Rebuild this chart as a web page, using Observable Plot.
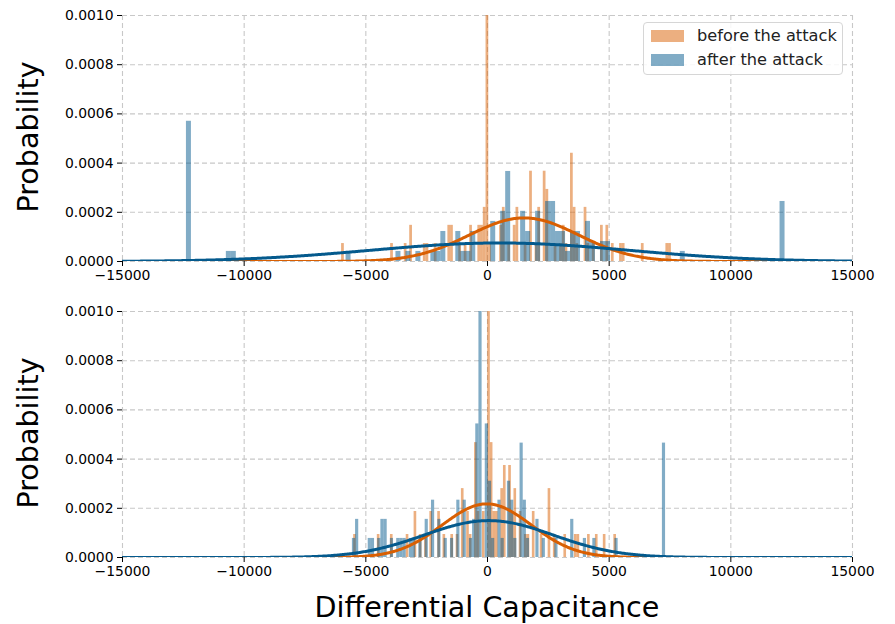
<!DOCTYPE html>
<html><head><meta charset="utf-8">
<script src="https://cdn.jsdelivr.net/npm/d3@7"></script>
<script src="https://cdn.jsdelivr.net/npm/@observablehq/plot@0.6"></script>
<style>
body{margin:0;background:#fff;font-family:"DejaVu Sans",sans-serif;}
#fig{position:relative;width:895px;height:624px;overflow:hidden;background:#fff;}
.panel{position:absolute;left:0;}
.lab{position:absolute;font-size:28.6px;white-space:nowrap;color:#000;transform:translate(-50%,-50%);}
.ylab{transform:translate(-50%,-50%) rotate(-90deg);}
#legend{position:absolute;left:643px;top:22px;width:200px;height:53px;border:1px solid #d6d6d6;border-radius:4px;background:rgba(255,255,255,0.85);box-sizing:border-box;}
.sw{position:absolute;width:33px;height:12px;}
.lt{position:absolute;font-size:16.2px;color:#222;line-height:16px;white-space:nowrap;}
</style></head><body><div id="fig"></div>
<script>
// ---- data ----
const xTicks = [-15000, -10000, -5000, 0, 5000, 10000, 15000];
const yTicks = [0, 0.0002, 0.0004, 0.0006, 0.0008, 0.001];
const seriesNames = ["before the attack", "after the attack"];
const barColors = ["#d95f02", "#045a8d"];

// top panel: before (bin width ~112)
const topBeforeX = [-5940,-3925,-3410,-3185,-2570,-2445,-2137,-1580,-1480,-1110,-904,-640,-350,-230,-120,-20,123,510,640,945,1170,1270,1562,1790,1973,2120,2320,2430,2836,3000,3140,3288,3470,3580,3740,3990,4151,4357,4660,4870,5138,5490,5610,6350,7400,7520];
const topBeforeP = [7.3e-5,7.3e-5,7.3e-5,1.47e-4,7.3e-5,7.3e-5,7.3e-5,1.47e-4,1.47e-4,7.3e-5,7.3e-5,1.47e-4,1.47e-4,1.47e-4,2.2e-4,1.03e-3,7.3e-5,1.47e-4,2.2e-4,7.3e-5,1.47e-4,2.2e-4,7.3e-5,3.67e-4,7.3e-5,2.2e-4,3.67e-4,2.93e-4,7.3e-5,7.3e-5,1.47e-4,7.3e-5,4.4e-4,2.2e-4,7.3e-5,2.2e-4,7.3e-5,7.3e-5,1.47e-4,1.47e-4,7.3e-5,7.3e-5,7.3e-5,7.3e-5,7.3e-5,7.3e-5];
// top panel: after (bin width ~205)
const topAfterX = [-12270,-10727,-10480,-5713,-3761,-3165,-2918,-2261,-2014,-1829,-1254,-1028,-781,-493,247,658,843,1459,1664,2035,2405,2610,2816,3001,3371,3576,3782,4131,4336,4686,4891,7994,12227];
const topAfterP = [5.7e-4,4.1e-5,4.1e-5,4.1e-5,4.1e-5,4.1e-5,4.1e-5,4.1e-5,4.1e-5,1.22e-4,1.22e-4,4.1e-5,4.1e-5,1.22e-4,1.63e-4,2.04e-4,3.66e-4,2.04e-4,1.22e-4,2.04e-4,2.44e-4,2.44e-4,1.22e-4,1.22e-4,4.1e-5,1.22e-4,1.22e-4,1.63e-4,8.1e-5,8.1e-5,8.1e-5,4.1e-5,2.44e-4];
// bottom panel: before (bin width ~108)
const botBeforeX = [-5446,-4459,-3925,-3268,-2980,-2754,-2548,-2363,-2014,-1767,-1459,-1274,-966,-781,-658,-473,-329,-164,21,123,288,411,617,719,925,1028,1151,1356,1562,1726,1932,2178,2528,2795,3165,3637,3740,4131,4459,4788,5199];
const botBeforeP = [9.35e-5,9.35e-5,9.35e-5,9.35e-5,1.87e-4,9.35e-5,9.35e-5,1.87e-4,1.87e-4,9.35e-5,9.35e-5,9.35e-5,2.8e-4,1.87e-4,9.35e-5,4.67e-4,1.87e-4,1.87e-4,1.03e-3,4.67e-4,1.87e-4,1.87e-4,2.8e-4,3.74e-4,3.74e-4,1.87e-4,2.8e-4,1.87e-4,9.35e-5,9.35e-5,1.87e-4,9.35e-5,2.8e-4,9.35e-5,9.35e-5,9.35e-5,9.35e-5,9.35e-5,9.35e-5,9.35e-5,9.35e-5];
// bottom panel: after (bin width ~130)
const botAfterX = [-5487,-5384,-4870,-4665,-4459,-4254,-4151,-3925,-3699,-3576,-3370,-3165,-2959,-2754,-2466,-2240,-1973,-1726,-1521,-1171,-945,-699,-575,-452,-267,-62,144,247,473,617,843,986,1151,1377,1480,1685,2055,2281,2856,3473,3966,4357,5364,7295];
const botAfterP = [7.75e-5,1.55e-4,7.75e-5,7.75e-5,7.75e-5,1.55e-4,1.55e-4,7.75e-5,7.75e-5,7.75e-5,7.75e-5,7.75e-5,7.75e-5,7.75e-5,1.55e-4,2.33e-4,1.55e-4,7.75e-5,7.75e-5,2.33e-4,2.33e-4,7.75e-5,1.55e-4,5.43e-4,1.008e-3,5.43e-4,3.1e-4,7.75e-5,2.33e-4,7.75e-5,3.1e-4,2.33e-4,7.75e-5,4.65e-4,2.33e-4,7.75e-5,1.55e-4,7.75e-5,7.75e-5,1.55e-4,7.75e-5,7.75e-5,7.75e-5,4.65e-4];
const binWidths = [112, 205, 108, 130]; // topBefore, topAfter, botBefore, botAfter

// fitted normal curves: topBefore, topAfter, botBefore, botAfter
const fitMeans = [1500, 500, -30, 50];
const fitSds = [2250, 5300, 1830, 2660];

// ---- helpers ----
function binRects(centers, probs, width) {
  const c0 = centers[0];
  let prev = -Infinity;
  return centers.map((c, i) => {
    let k = Math.round((c - c0) / width);
    if (k <= prev) k = prev + 1;
    prev = k;
    const mid = c0 + k * width;
    return {x1: mid - width / 2, x2: mid + width / 2, y: probs[i]};
  });
}
const gridXs = d3.range(-15000, 15001, 50);
function curve(m, s) {
  return gridXs.map(x => ({x, y: Math.exp(-((x - m) ** 2) / (2 * s * s)) / (s * Math.sqrt(2 * Math.PI))}));
}

function panel(beforeBars, afterBars, beforeCurve, afterCurve, height, marginBottom) {
  return Plot.plot({
    width: 895, height,
    marginLeft: 122, marginRight: 43, marginTop: 15, marginBottom,
    x: {domain: [-15000, 15000]},
    y: {domain: [0, 0.001]},
    style: {fontFamily: "DejaVu Sans", fontSize: "13.9px", color: "#000", background: "transparent", overflow: "visible"},
    marks: [
      Plot.gridX(xTicks, {stroke: "#c8c8c8", strokeOpacity: 1, strokeWidth: 1.1, strokeDasharray: "5,3"}),
      Plot.gridY(yTicks, {stroke: "#c8c8c8", strokeOpacity: 1, strokeWidth: 1.1, strokeDasharray: "5,3"}),
      Plot.rectY(beforeBars, {x1: "x1", x2: "x2", y: "y", fill: barColors[0], fillOpacity: 0.5, clip: true}),
      Plot.rectY(afterBars, {x1: "x1", x2: "x2", y: "y", fill: barColors[1], fillOpacity: 0.5, clip: true}),
      Plot.line(beforeCurve, {x: "x", y: "y", stroke: barColors[0], strokeWidth: 3, clip: true}),
      Plot.line(afterCurve, {x: "x", y: "y", stroke: barColors[1], strokeWidth: 3, clip: true}),
      Plot.axisX({ticks: xTicks, tickFormat: d3.format("d"), tickSize: 5, tickPadding: 4, label: null, fontSize: 13.9}),
      Plot.axisY({ticks: yTicks, tickFormat: d3.format(".4f"), tickSize: 5, tickPadding: 4, label: null, fontSize: 13.9})
    ]
  });
}

const fig = document.getElementById("fig");
const topSvg = panel(
  binRects(topBeforeX, topBeforeP, binWidths[0]),
  binRects(topAfterX, topAfterP, binWidths[1]),
  curve(fitMeans[0], fitSds[0]), curve(fitMeans[1], fitSds[1]), 296, 35);
topSvg.classList.add("panel"); topSvg.style.top = "0px";
fig.appendChild(topSvg);
const botSvg = panel(
  binRects(botBeforeX, botBeforeP, binWidths[2]),
  binRects(botAfterX, botAfterP, binWidths[3]),
  curve(fitMeans[2], fitSds[2]), curve(fitMeans[3], fitSds[3]), 328, 67);
botSvg.classList.add("panel"); botSvg.style.top = "296px";
fig.appendChild(botSvg);

function addDiv(cls, text, left, topPx) {
  const d = document.createElement("div");
  d.className = cls; d.textContent = text;
  d.style.left = left + "px"; d.style.top = topPx + "px";
  fig.appendChild(d);
  return d;
}
addDiv("lab ylab", "Probability", 28, 137);
addDiv("lab ylab", "Probability", 28, 433);
addDiv("lab", "Differential Capacitance", 487, 607);

const leg = document.createElement("div");
leg.id = "legend"; fig.appendChild(leg);
seriesNames.forEach((name, i) => {
  const sw = document.createElement("div");
  sw.className = "sw";
  sw.style.left = "7px"; sw.style.top = (7 + i * 24) + "px";
  sw.style.background = barColors[i]; sw.style.opacity = 0.5;
  leg.appendChild(sw);
  const t = document.createElement("div");
  t.className = "lt"; t.textContent = name;
  t.style.left = "53px"; t.style.top = (5 + i * 24) + "px";
  leg.appendChild(t);
});
</script></body></html>
